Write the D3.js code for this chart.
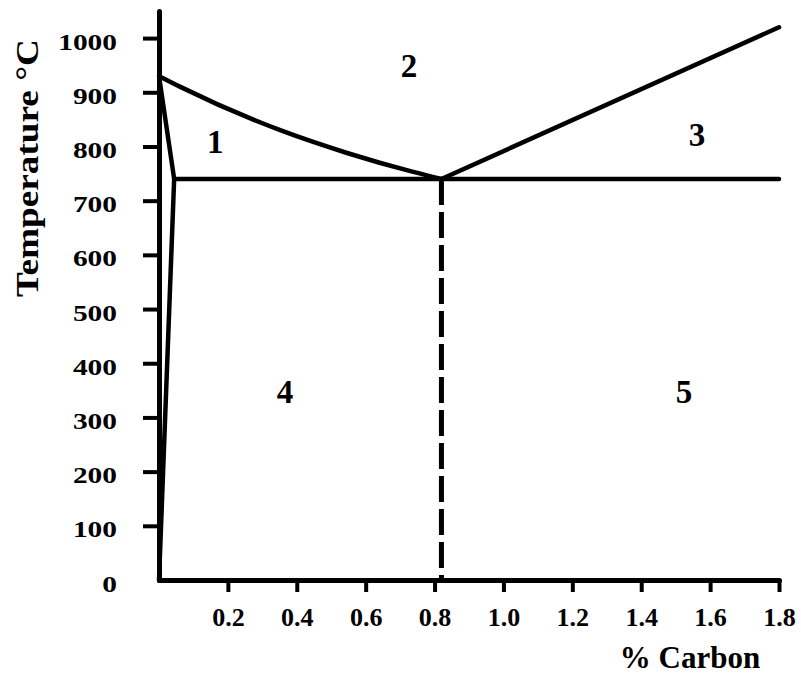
<!DOCTYPE html>
<html>
<head>
<meta charset="utf-8">
<script src="https://cdn.jsdelivr.net/npm/d3@7"></script>
<style>
  body { margin: 0; background: #fff; }
  svg text { font-family: "Liberation Serif", "Times New Roman", Times, serif; font-weight: bold; fill: #000; }
</style>
</head>
<body>
<div id="container"></div>
<script>
"use strict";

const width = 801;
const height = 683;

const xTicks = [0.2, 0.4, 0.6, 0.8, 1.0, 1.2, 1.4, 1.6, 1.8];
const yTicks = [0, 100, 200, 300, 400, 500, 600, 700, 800, 900, 1000];

// A3 line (austenite / ferrite+austenite boundary)
const a3Carbon = [0, 0.062, 0.352, 0.546, 0.738, 0.82];
const a3Temp = [930, 910, 830, 788, 753, 740];

// ferrite boundary: top of A3 down to the eutectoid line, then back to 0
const alphaCarbon = [0, 0.044, 0];
const alphaTemp = [930, 740, 0];

// eutectoid horizontal
const eutCarbon = [0.044, 1.8];
const eutTemp = [740, 740];

// Acm line
const acmCarbon = [0.82, 1.8];
const acmTemp = [740, 1020];

// dashed eutectoid composition
const dashCarbon = [0.82, 0.82];
const dashTemp = [740, 0];

const regionNames = ["1", "2", "3", "4", "5"];
const regionCarbon = [0.163, 0.726, 1.562, 0.366, 1.524];
const regionTemp = [808, 948, 821, 347, 347];

const x = d3.scaleLinear().domain([0, 1.8]).range([159, 779]);
const y = d3.scaleLinear().domain([0, 1050]).range([580, 11]);

const svg = d3
  .select("#container")
  .append("svg")
  .attr("width", width)
  .attr("height", height);

const line = d3
  .line()
  .x((d) => x(d[0]))
  .y((d) => y(d[1]));

const zip = (a, b) => a.map((v, i) => [v, b[i]]);

// axes
const yAxis = d3
  .axisLeft(y)
  .tickValues(yTicks)
  .tickSize(16)
  .tickSizeOuter(0)
  .tickFormat(d3.format("d"));

const gy = svg
  .append("g")
  .attr("transform", `translate(${x(0)},0)`)
  .call(yAxis);

gy.select(".domain").attr("stroke-width", 5);
gy.selectAll(".tick line").attr("stroke-width", 4);
gy.selectAll(".tick")
  .filter((d) => d === 0)
  .select("line")
  .remove();
gy.selectAll(".tick text")
  .attr("x", -42)
  .attr("dy", null)
  .attr("y", 11)
  .attr("font-size", 23)
  .attr("textLength", (d) => String(d).length * 14.7)
  .attr("lengthAdjust", "spacingAndGlyphs");

const xAxis = d3
  .axisBottom(x)
  .tickValues(xTicks)
  .tickSize(12)
  .tickSizeOuter(0)
  .tickFormat(d3.format(".1f"));

const gx = svg
  .append("g")
  .attr("transform", `translate(0,${y(0)})`)
  .call(xAxis);

gx.select(".domain").attr("stroke-width", 5);
gx.selectAll(".tick line").attr("stroke-width", 4);
gx.selectAll(".tick text")
  .attr("y", 46)
  .attr("dy", null)
  .attr("font-size", 26);

svg.selectAll(".domain").attr("stroke-linecap", "round").attr("stroke-linejoin", "round");

// phase boundaries
svg
  .append("path")
  .attr("d", line.curve(d3.curveMonotoneX)(zip(a3Carbon, a3Temp)))
  .attr("fill", "none")
  .attr("stroke", "#000")
  .attr("stroke-width", 4.5);

line.curve(d3.curveLinear);

[
  [alphaCarbon, alphaTemp],
  [eutCarbon, eutTemp],
  [acmCarbon, acmTemp],
].forEach(([c, t]) => {
  svg
    .append("path")
    .attr("d", line(zip(c, t)))
    .attr("fill", "none")
    .attr("stroke", "#000")
    .attr("stroke-width", 4.5)
    .attr("stroke-linecap", "round")
    .attr("stroke-linejoin", "round");
});

svg
  .append("path")
  .attr("d", line(zip(dashCarbon, dashTemp)))
  .attr("fill", "none")
  .attr("stroke", "#000")
  .attr("stroke-width", 5)
  .attr("stroke-dasharray", "26,7");

// region numbers
svg
  .selectAll(".region")
  .data(regionNames)
  .enter()
  .append("text")
  .attr("class", "region")
  .attr("x", (d, i) => x(regionCarbon[i]))
  .attr("y", (d, i) => y(regionTemp[i]))
  .attr("text-anchor", "middle")
  .attr("dominant-baseline", "central")
  .attr("font-size", 33)
  .text((d) => d);

// axis titles
svg
  .append("text")
  .attr("transform", "translate(38,168) rotate(-90)")
  .attr("text-anchor", "middle")
  .attr("font-size", 31)
  .attr("textLength", 258)
  .attr("lengthAdjust", "spacingAndGlyphs")
  .text("Temperature °C");

svg
  .append("text")
  .attr("x", 690)
  .attr("y", 668)
  .attr("text-anchor", "middle")
  .attr("font-size", 31)
  .text("% Carbon");
</script>
</body>
</html>
